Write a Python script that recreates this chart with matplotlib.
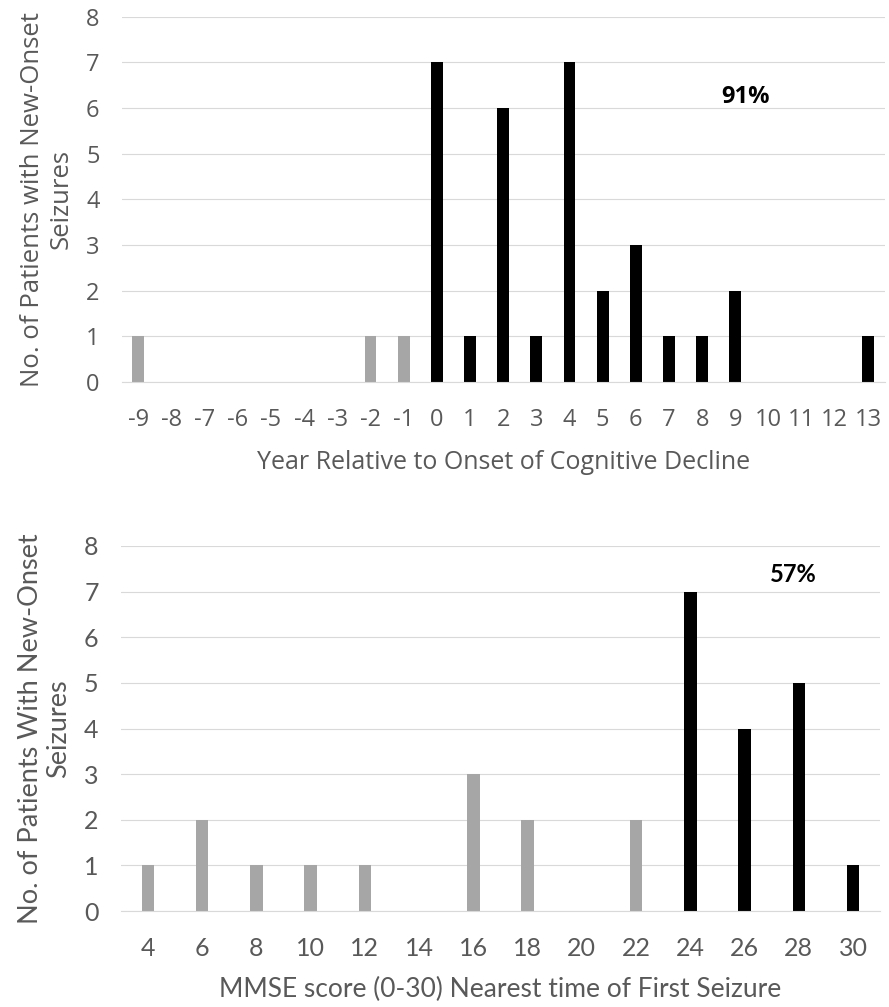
import matplotlib.pyplot as plt
import numpy as np

# top panel: year relative to onset of cognitive decline
years = list(range(-9, 14))
year_counts = [1, 0, 0, 0, 0, 0, 0, 1, 1, 7, 1, 6, 1, 7, 2, 3, 1, 1, 2, 0, 0, 0, 1]

# bottom panel: MMSE score nearest time of first seizure
mmse = [4, 6, 8, 10, 12, 14, 16, 18, 20, 22, 24, 26, 28, 30]
mmse_counts = [1, 2, 1, 1, 1, 0, 3, 2, 0, 2, 7, 4, 5, 1]

gray = '#a6a6a6'
txt = '#595959'
plt.rcParams['font.family'] = ['Open Sans', 'DejaVu Sans']

fig = plt.figure(figsize=(8.89, 10.07), dpi=100, facecolor='w')
ax1 = fig.add_axes([0.137, 0.6207, 0.858, 0.3626])
ax2 = fig.add_axes([0.136, 0.0953, 0.854, 0.3625])


def style(ax, labels, ylabel, xlabel, family, tsize, ysize, xsize, xpad):
    ax.set_ylim(0, 8)
    ax.set_yticks(range(0, 9))
    ax.set_xlim(-0.5, len(labels) - 0.5)
    ax.set_xticks(range(len(labels)))
    ax.set_xticklabels([str(v) for v in labels])
    for lab in ax.get_xticklabels() + ax.get_yticklabels():
        lab.set_family(family)
    ax.grid(axis='y', color='#d9d9d9', linewidth=0.8)
    ax.set_axisbelow(True)
    for s in ['top', 'right', 'left']:
        ax.spines[s].set_visible(False)
    ax.spines['bottom'].set_color('#d9d9d9')
    ax.tick_params(length=0, labelsize=tsize, colors=txt)
    ax.tick_params(axis='y', pad=16)
    ax.tick_params(axis='x', pad=19)
    ax.set_ylabel(ylabel, fontsize=ysize, color=txt, linespacing=1.2,
                  labelpad=9, family=family)
    ax.set_xlabel(xlabel, fontsize=xsize, color=txt, labelpad=xpad, family=family)


x1 = np.arange(len(years))
c1 = [gray if y < 0 else 'black' for y in years]
ax1.bar(x1, year_counts, width=0.36, color=c1)
style(ax1, years, 'No. of Patients with New-Onset\nSeizures',
      'Year Relative to Onset of Cognitive Decline',
      ['Open Sans', 'DejaVu Sans'], 17, 18.5, 18, 13)
ax1.text(18.3, 6.25, '91%', fontsize=17, fontweight='bold', ha='center', va='center')

x2 = np.arange(len(mmse))
c2 = [gray if m < 24 else 'black' for m in mmse]
ax2.bar(x2, mmse_counts, width=0.23, color=c2)
style(ax2, mmse, 'No. of Patients With New-Onset\nSeizures',
      'MMSE score (0-30) Nearest time of First Seizure',
      ['Lato', 'DejaVu Sans'], 18, 19.5, 19, 12)
ax2.text(11.9, 7.37, '57%', fontsize=17, fontweight='bold', ha='center', va='center',
         family=['Lato', 'DejaVu Sans'])

fig.savefig('out.png', dpi=100)
